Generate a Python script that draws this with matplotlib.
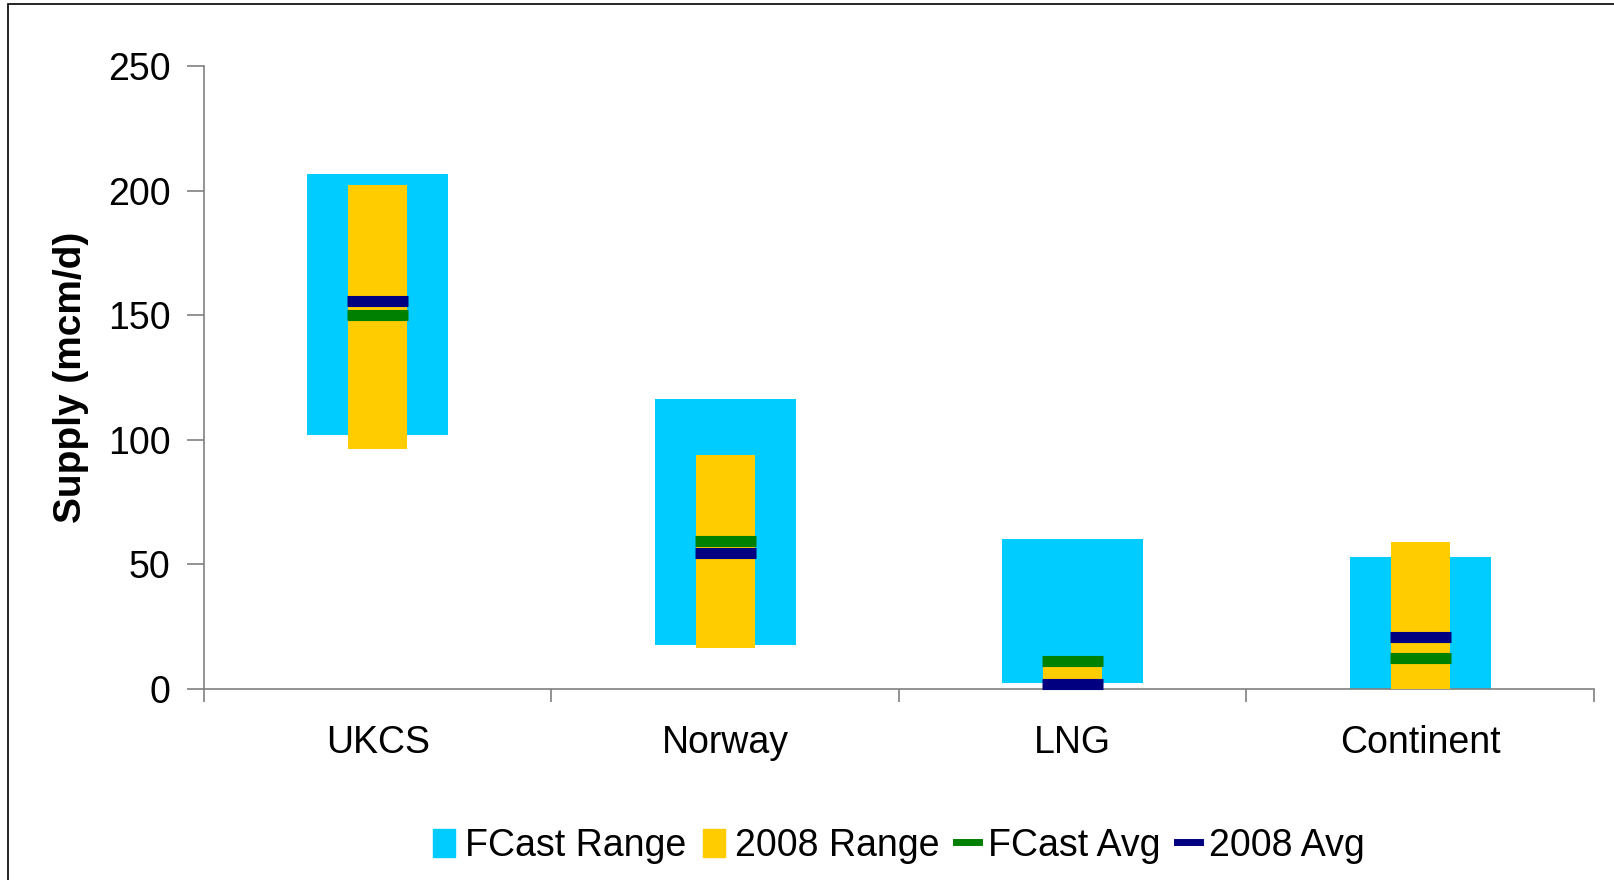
import numpy as np
import matplotlib
matplotlib.use("Agg")
import matplotlib.pyplot as plt
from matplotlib.patches import Rectangle
from matplotlib.lines import Line2D

plt.rcParams['font.family'] = ['Liberation Sans', 'DejaVu Sans']

categories = ['UKCS', 'Norway', 'LNG', 'Continent']
fcast_low = [102.0, 17.5, 2.5, 0.0]
fcast_high = [206.7, 116.4, 60.0, 53.0]
range08_low = [96.3, 16.6, 0.5, 0.0]
range08_high = [202.2, 93.9, 10.0, 59.0]
fcast_avg = [150.0, 59.4, 11.2, 12.4]
avg08 = [155.7, 54.7, 1.9, 20.7]

c_fcast = '#00CCFF'
c_08 = '#FFCC00'
c_favg = '#008000'
c_avg08 = '#000080'

fig = plt.figure(figsize=(16.14, 8.8), dpi=100)
ax = fig.add_axes([204 / 1614, 191 / 880, 1390 / 1614, 623 / 880])

x = np.arange(len(categories))
lo = np.array(fcast_low)
hi = np.array(fcast_high)
ax.bar(x, hi - lo, bottom=lo, width=0.405, color=c_fcast, zorder=2)
lo8 = np.array(range08_low)
hi8 = np.array(range08_high)
ax.bar(x, hi8 - lo8, bottom=lo8, width=0.17, color=c_08, zorder=3)

hw = 0.088
for xi, fa, a8 in zip(x, fcast_avg, avg08):
    ax.plot([xi - hw, xi + hw], [fa, fa], color=c_favg, lw=8,
            solid_capstyle='butt', zorder=4, clip_on=False)
    ax.plot([xi - hw, xi + hw], [a8, a8], color=c_avg08, lw=8,
            solid_capstyle='butt', zorder=5, clip_on=False)

ax.set_xlim(-0.5, 3.5)
ax.set_ylim(0, 250)
ax.set_yticks([0, 50, 100, 150, 200, 250])

# category boundaries as ticks, names in between
ax.set_xticks(np.arange(-0.5, 4.0, 1.0))
ax.set_xticklabels([])
ax.set_xticks(x, minor=True)
ax.set_xticklabels(categories, minor=True)
ax.tick_params(axis='x', which='major', direction='out', length=9,
               color='#808080', width=1.2)
ax.tick_params(axis='x', which='minor', length=0, pad=26, labelsize=27)
ax.tick_params(axis='y', direction='out', length=12, color='#808080',
               width=1.2, pad=12, labelsize=27)

for s in ['top', 'right']:
    ax.spines[s].set_visible(False)
for s in ['left', 'bottom']:
    ax.spines[s].set_color('#808080')
    ax.spines[s].set_linewidth(1.2)

ax.set_ylabel('Supply (mcm/d)', fontsize=28, fontweight='bold')
ax.yaxis.set_label_coords(-0.083, 0.5)

handles = [
    Rectangle((0, 0), 1, 1, color=c_fcast),
    Rectangle((0, 0), 1, 1, color=c_08),
    Line2D([], [], color=c_favg, lw=5),
    Line2D([], [], color=c_avg08, lw=5),
]
labels = ['FCast Range', '2008 Range', 'FCast Avg', '2008 Avg']
ax.legend(handles, labels, loc='center', bbox_to_anchor=(0.5, -0.252),
          ncol=4, frameon=False, handlelength=0.6, handleheight=0.8,
          handletextpad=0.25, columnspacing=0.45, fontsize=27)

fig.add_artist(Rectangle((8 / 1614, -0.1), 1.2, 1.1 - 4 / 880,
                         transform=fig.transFigure, fill=False,
                         ec='black', lw=1.2))

fig.savefig('out.png', dpi=100)
